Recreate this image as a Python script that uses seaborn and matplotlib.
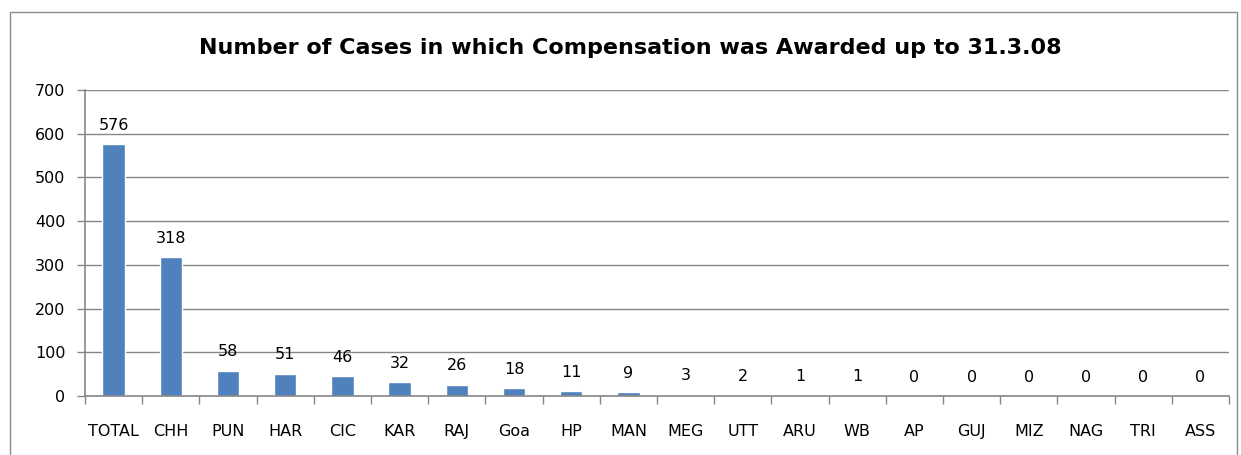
import matplotlib
matplotlib.use("Agg")
import matplotlib.pyplot as plt
import seaborn as sns
import pandas as pd
from matplotlib.patches import Rectangle

categories = ["TOTAL", "CHH", "PUN", "HAR", "CIC", "KAR", "RAJ", "Goa", "HP", "MAN",
              "MEG", "UTT", "ARU", "WB", "AP", "GUJ", "MIZ", "NAG", "TRI", "ASS"]
values = [576, 318, 58, 51, 46, 32, 26, 18, 11, 9, 3, 2, 1, 1, 0, 0, 0, 0, 0, 0]
y_ticks = [0, 100, 200, 300, 400, 500, 600, 700]
title = "Number of Cases in which Compensation was Awarded up to 31.3.08"

sns.set_theme(style="white")
plt.rcParams['font.family'] = ['DejaVu Sans']
plt.rcParams['text.color'] = 'black'
plt.rcParams['xtick.color'] = 'black'
plt.rcParams['ytick.color'] = 'black'

df = pd.DataFrame({"cat": categories, "val": values})

fig = plt.figure(figsize=(12.41, 4.55), dpi=100)
ax = fig.add_axes([85/1241, 1 - 396/455, (1229 - 85)/1241, (396 - 90)/455])

sns.barplot(data=df, x="cat", y="val", color="#4F81BD", saturation=1, width=0.39, ax=ax)

fs = 11.5
ax.set_ylim(0, 700)
ax.set_xlim(-0.5, len(categories) - 0.5)
ax.set_yticks(y_ticks)
ax.set_yticklabels([str(t) for t in y_ticks], fontsize=fs)
ax.set_xlabel("")
ax.set_ylabel("")
ax.yaxis.grid(True, color="#868686", linewidth=1)
ax.set_axisbelow(True)
for s in ["top", "right"]:
    ax.spines[s].set_visible(False)
for s in ["left", "bottom"]:
    ax.spines[s].set_color("#868686")
    ax.spines[s].set_linewidth(1.2)

ax.set_xticks(range(len(categories)))
ax.set_xticklabels(categories, fontsize=fs)
ax.set_xticks([i - 0.5 for i in range(len(categories) + 1)], minor=True)
ax.tick_params(axis="x", which="major", bottom=True, length=0, pad=20, labelcolor="black")
ax.tick_params(axis="x", which="minor", bottom=True, length=6, color="#868686",
               width=1, direction="out")
ax.tick_params(axis="y", which="major", left=True, length=6, color="#868686", width=1,
               direction="out", pad=8, labelcolor="black")

for i, v in enumerate(values):
    ax.text(i, v + 26, str(v), ha="center", va="bottom", fontsize=fs, color="black")

fig.text(630/1241, 1 - 48/455, title, ha="center", va="center",
         fontsize=16, fontweight="bold", color="black")

fig.patches.append(Rectangle((10/1241, -0.05), (1237 - 10)/1241, 1 - 12/455 + 0.05,
                             transform=fig.transFigure, fill=False,
                             edgecolor="#8c8c8c", linewidth=1))

fig.savefig("out.png", dpi=100)
